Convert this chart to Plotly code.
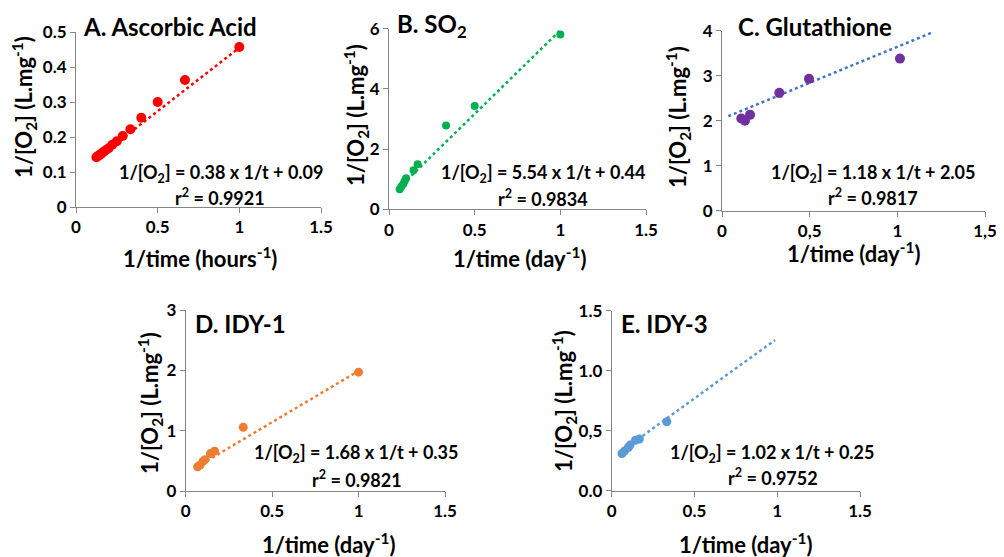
import plotly.graph_objects as go

REF_W, REF_H = 1004, 557
BODY = 8  # page body margin in the browser
W, H = REF_W - BODY, REF_H - BODY
FONT = "Lato"

# ---------------- data ----------------
a_x = [0.125, 0.133, 0.143, 0.154, 0.167, 0.182, 0.2, 0.222, 0.25, 0.286, 0.333, 0.4, 0.5, 0.667, 1.0]
a_y = [0.142, 0.145, 0.148, 0.152, 0.157, 0.162, 0.168, 0.178, 0.188, 0.203, 0.222, 0.255, 0.300, 0.363, 0.457]
a_trend_x = [0.125, 1.0]
a_trend_y = [0.138, 0.455]

b_x = [0.0625, 0.071, 0.083, 0.091, 0.1, 0.143, 0.167, 0.333, 0.5, 1.0]
b_y = [0.67, 0.75, 0.84, 0.93, 1.03, 1.30, 1.50, 2.78, 3.43, 5.81]
b_trend_x = [0.056, 1.0]
b_trend_y = [0.70, 5.95]

c_x = [0.11, 0.131, 0.16, 0.327, 0.496, 1.015]
c_y = [2.05, 2.00, 2.13, 2.62, 2.93, 3.38]
c_err_minus = [0.0, 0.07, 0.0, 0.09, 0.05, 0.0]
c_trend_x = [0.036, 1.205]
c_trend_y = [2.10, 3.97]

d_x = [0.069, 0.083, 0.1, 0.111, 0.143, 0.167, 0.333, 1.0]
d_y = [0.40, 0.43, 0.49, 0.52, 0.62, 0.66, 1.055, 1.97]
d_trend_x = [0.064, 1.0]
d_trend_y = [0.40, 1.99]

e_x = [0.0625, 0.077, 0.1, 0.111, 0.143, 0.167, 0.333]
e_y = [0.31, 0.33, 0.36, 0.38, 0.42, 0.43, 0.575]
e_trend_x = [0.04, 0.987]
e_trend_y = [0.31, 1.256]

x_ticks = [0, 0.5, 1, 1.5]
x_ticktext_dot = ["0", "0.5", "1", "1.5"]
x_ticktext_comma = ["0", "0,5", "1", "1,5"]

a_yticks = [0, 0.1, 0.2, 0.3, 0.4, 0.5]
a_yticktext = ["0", "0.1", "0.2", "0.3", "0.4", "0.5"]
b_yticks = [0, 2, 4, 6]
c_yticks = [0, 1, 2, 3, 4]
d_yticks = [0, 1, 2, 3]
e_yticks = [0, 0.5, 1.0, 1.5]
e_yticktext = ["0.0", "0,5", "1.0", "1.5"]

titles = ["A. Ascorbic Acid", "B. SO<sub>2</sub>", "C. Glutathione", "D. IDY-1", "E. IDY-3"]
equations = [
    "1/[O<sub>2</sub>] = 0.38 x 1/t + 0.09",
    "1/[O<sub>2</sub>] = 5.54 x 1/t + 0.44",
    "1/[O<sub>2</sub>] = 1.18 x 1/t + 2.05",
    "1/[O<sub>2</sub>] = 1.68 x 1/t + 0.35",
    "1/[O<sub>2</sub>] = 1.02 x 1/t + 0.25",
]
r2_texts = ["r<sup>2</sup> = 0.9921", "r<sup>2</sup> = 0.9834", "r<sup>2</sup> = 0.9817",
            "r<sup>2</sup> = 0.9821", "r<sup>2</sup> = 0.9752"]
x_titles = ["1/time (hours<sup>-1</sup>)", "1/time (day<sup>-1</sup>)", "1/time (day<sup>-1</sup>)",
            "1/time (day<sup>-1</sup>)", "1/time (day<sup>-1</sup>)"]
y_title = "1/[O<sub>2</sub>] (L.mg<sup>-1</sup>)"

# ---------------- layout helpers (reference pixel -> paper fraction) ----------------
def px_x(p):
    return (p - BODY) / W

def px_y(p):
    return 1 - (p - BODY) / H

def bold(t):
    return "<b>" + t + "</b>"

# panel pixel boxes in reference coordinates: (left, right, top, bottom)
boxes = [
    (76, 321, 32, 207),
    (389, 646, 28.7, 209.3),
    (722, 985, 30.7, 210.7),
    (185.7, 445, 310, 491),
    (611.7, 860, 310.7, 490.7),
]
y_ranges = [[0, 0.5], [0, 6], [0, 4], [0, 3], [0, 1.5]]
y_ticks = [a_yticks, b_yticks, c_yticks, d_yticks, e_yticks]
y_ticktexts = [a_yticktext, [str(v) for v in b_yticks], [str(v) for v in c_yticks],
               [str(v) for v in d_yticks], e_yticktext]
x_ticktexts = [x_ticktext_dot, x_ticktext_dot, x_ticktext_comma, x_ticktext_dot, x_ticktext_dot]

colors = ["#FF0000", "#00B050", "#7030A0", "#ED7D31", "#5B9BD5"]
trend_colors = ["#FF0000", "#00B050", "#4472C4", "#ED7D31", "#5B9BD5"]
marker_sizes = [10, 8, 10, 9, 9]

series = [(a_x, a_y, a_trend_x, a_trend_y),
          (b_x, b_y, b_trend_x, b_trend_y),
          (c_x, c_y, c_trend_x, c_trend_y),
          (d_x, d_y, d_trend_x, d_trend_y),
          (e_x, e_y, e_trend_x, e_trend_y)]

fig = go.Figure()
layout = dict(
    width=W, height=H, autosize=False,
    margin=dict(l=0, r=0, t=0, b=0, pad=0),
    paper_bgcolor="white", plot_bgcolor="white",
    showlegend=False,
    font=dict(family=FONT, color="black"),
)

axis_color = "#868686"
tickfont = dict(family=FONT, size=17, color="black")

for i, (box, (sx, sy, tx, ty)) in enumerate(zip(boxes, series)):
    n = "" if i == 0 else str(i + 1)
    xa, ya = "x" + n, "y" + n
    l, r, t, b = box
    layout["xaxis" + n] = dict(
        domain=[px_x(l), px_x(r)], anchor=ya, range=[0, 1.5], automargin=False,
        tickvals=x_ticks, ticktext=[bold(s) for s in x_ticktexts[i]],
        showgrid=False, zeroline=False, showline=True, linecolor=axis_color, linewidth=1,
        ticks="outside", ticklen=5, tickcolor=axis_color, tickfont=tickfont,
    )
    layout["yaxis" + n] = dict(
        domain=[px_y(b), px_y(t)], anchor=xa, range=y_ranges[i], automargin=False,
        tickvals=y_ticks[i], ticktext=[bold(s) for s in y_ticktexts[i]],
        showgrid=False, zeroline=False, showline=True, linecolor=axis_color, linewidth=1,
        ticks="outside", ticklen=5, tickcolor=axis_color, tickfont=tickfont,
    )

    fig.add_trace(go.Scatter(
        x=tx, y=ty, mode="lines", xaxis=xa, yaxis=ya,
        line=dict(color=trend_colors[i], width=2.5, dash="dot"), hoverinfo="skip",
    ))
    err = None
    if i == 2:
        err = dict(type="data", symmetric=False, array=[0] * len(c_x), arrayminus=c_err_minus,
                   color="#7f7f7f", thickness=2, width=3)
    fig.add_trace(go.Scatter(
        x=sx, y=sy, mode="markers", xaxis=xa, yaxis=ya,
        marker=dict(color=colors[i], size=marker_sizes[i]),
        error_y=err,
    ))

annotations = []

def ann(text, x, y, size, xanchor="center", angle=0):
    annotations.append(dict(
        text=bold(text), x=px_x(x), y=px_y(y), xref="paper", yref="paper",
        xanchor=xanchor, yanchor="middle", showarrow=False, textangle=angle,
        borderpad=0,
        font=dict(family=FONT, size=size, color="black"),
    ))

title_pos = [(82, 26), (396, 25), (737, 27), (194, 323), (620, 323)]
eq_pos = [(221, 173), (543, 173), (873, 173), (356, 453), (772, 453)]
r2_pos = [(220, 197), (543, 198), (873, 197), (357, 479), (773, 477)]
xt_pos = [(200, 257), (520, 257), (853, 252), (328, 543), (745, 543)]
yt_pos = [(24, 107), (356, 115), (678, 117), (150, 403), (564, 401)]

for i in range(5):
    ann(titles[i], title_pos[i][0], title_pos[i][1], 24, xanchor="left")
    ann(equations[i], eq_pos[i][0], eq_pos[i][1], 18)
    ann(r2_texts[i], r2_pos[i][0], r2_pos[i][1], 18)
    ann(x_titles[i], xt_pos[i][0], xt_pos[i][1], 22)
    ann(y_title, yt_pos[i][0], yt_pos[i][1], 22, angle=-90)

layout["annotations"] = annotations
fig.update_layout(**layout)
fig.write_html("out.html")
